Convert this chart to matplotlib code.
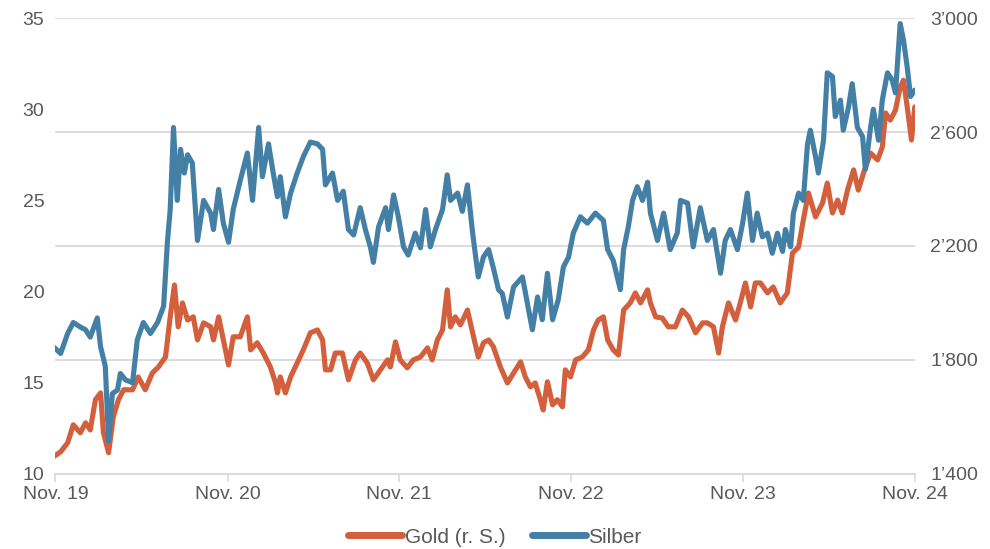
import matplotlib.pyplot as plt
import matplotlib.dates as mdates
from matplotlib.ticker import FixedLocator, FuncFormatter
import pandas as pd

plt.rcParams['font.family'] = ['Liberation Sans', 'DejaVu Sans']

start = pd.Timestamp('2019-11-01')

# days after 1 Nov 2019, silver price (USD/oz, left axis)
silver_days = [-4, 11, 26, 38, 53, 64, 74, 89, 96, 106, 113, 121, 132, 138, 149, 164, 174, 187,
               202, 217, 230, 238, 244, 251, 259, 266, 274, 281, 291, 302, 315, 330, 336, 347,
               357, 368, 378, 393, 408, 419, 432, 440, 453, 463, 472, 478, 489, 500, 514, 527,
               542, 557, 568, 574, 589, 600, 612, 623, 634, 648, 659, 670, 676, 687, 702, 708,
               719, 729, 740, 750, 765, 776, 787, 797, 808, 823, 833, 840, 855, 865, 876, 887,
               899, 910, 921, 931, 942, 950, 961, 974, 993, 1003, 1014, 1025, 1035, 1046, 1057,
               1069, 1080, 1091, 1101, 1116, 1131, 1148, 1165, 1174, 1186, 1201, 1208, 1218,
               1227, 1237, 1248, 1259, 1265, 1280, 1293, 1307, 1322, 1329, 1344, 1356, 1371,
               1386, 1399, 1414, 1424, 1435, 1450, 1461, 1471, 1482, 1492, 1503, 1514, 1524,
               1535, 1546, 1552, 1563, 1569, 1580, 1590, 1599, 1605, 1616, 1622, 1633, 1641,
               1652, 1658, 1669, 1675, 1686, 1694, 1705, 1716, 1722, 1733, 1739, 1750, 1758,
               1769, 1779, 1786, 1796, 1803, 1811, 1818, 1827]
silver = [16.96, 16.6, 17.7, 18.3, 18.05, 17.9, 17.5, 18.55, 16.96, 15.9, 11.8, 14.4, 14.6, 15.5,
          15.15, 15.0, 17.35, 18.3, 17.7, 18.3, 19.2, 22.7, 24.5, 29.0, 25.0, 27.8, 26.5, 27.5,
          27.05, 22.8, 25.0, 24.3, 23.4, 25.6, 23.75, 22.7, 24.5, 26.1, 27.6, 25.0, 29.0, 26.3,
          28.1, 26.5, 25.2, 26.3, 24.1, 25.4, 26.5, 27.4, 28.2, 28.1, 27.8, 25.85, 26.5, 25.0,
          25.5, 23.4, 23.1, 24.6, 23.4, 22.4, 21.6, 23.55, 24.6, 23.4, 25.3, 24.1, 22.45, 22.0,
          23.2, 22.4, 24.5, 22.45, 23.4, 24.5, 26.4, 25.0, 25.4, 24.4, 25.85, 23.2, 20.8, 21.9,
          22.3, 21.3, 20.1, 19.9, 18.6, 20.25, 20.8, 19.4, 17.9, 19.7, 18.45, 21.0, 18.45, 19.55,
          21.35, 21.9, 23.2, 24.1, 23.75, 24.3, 23.9, 22.3, 21.7, 20.1, 22.3, 23.55, 25.0, 25.75,
          25.0, 26.0, 24.3, 22.8, 24.3, 22.3, 23.2, 25.0, 24.85, 22.45, 24.6, 22.8, 23.4, 21.0,
          22.8, 23.4, 22.3, 23.75, 25.4, 22.8, 24.3, 23.0, 23.2, 22.1, 23.2, 22.2, 23.4, 22.45,
          24.3, 25.4, 25.0, 28.1, 28.85, 27.4, 26.5, 28.3, 32.0, 31.8, 29.6, 30.5, 28.85, 30.1,
          31.4, 29.0, 28.5, 26.7, 29.0, 30.0, 28.3, 30.5, 32.0, 31.6, 30.9, 34.7, 33.8, 32.3,
          30.7, 31.05]

# days after 1 Nov 2019, gold price (USD/oz, right axis)
gold_days = [-4, 11, 26, 38, 53, 64, 74, 85, 96, 102, 113, 123, 134, 145, 164, 176, 191, 206,
             219, 234, 244, 253, 261, 270, 281, 293, 302, 315, 330, 336, 347, 357, 368, 378,
             393, 408, 415, 429, 442, 457, 468, 472, 478, 489, 500, 514, 527, 542, 557, 568,
             574, 585, 595, 610, 623, 638, 648, 663, 676, 691, 706, 712, 723, 733, 748, 761,
             776, 791, 801, 812, 823, 833, 840, 850, 861, 876, 887, 899, 910, 921, 931, 946,
             961, 974, 989, 999, 1010, 1020, 1031, 1037, 1046, 1057, 1067, 1078, 1084, 1095,
             1106, 1120, 1133, 1144, 1154, 1165, 1174, 1186, 1197, 1208, 1222, 1233, 1244,
             1259, 1265, 1276, 1290, 1303, 1318, 1333, 1346, 1361, 1376, 1386, 1399, 1410,
             1418, 1431, 1446, 1456, 1467, 1478, 1488, 1499, 1514, 1526, 1541, 1556, 1567,
             1580, 1590, 1601, 1616, 1631, 1641, 1652, 1663, 1673, 1684, 1697, 1707, 1718,
             1733, 1748, 1758, 1765, 1775, 1786, 1796, 1803, 1811, 1820, 1827]
gold = [1460, 1477, 1509, 1572, 1544, 1579, 1554, 1660, 1684, 1544, 1474, 1600, 1660, 1695,
        1695, 1740, 1695, 1754, 1775, 1810, 1951, 2063, 1916, 2000, 1940, 1951, 1870, 1930,
        1916, 1870, 1951, 1870, 1782, 1881, 1881, 1951, 1835, 1860, 1824, 1775, 1719, 1684,
        1740, 1684, 1740, 1789, 1835, 1895, 1905, 1870, 1765, 1765, 1824, 1824, 1730, 1800,
        1824, 1789, 1730, 1765, 1800, 1775, 1863, 1800, 1772, 1800, 1810, 1842, 1800, 1870,
        1905, 2046, 1916, 1951, 1923, 1975, 1895, 1810, 1860, 1870, 1846, 1775, 1719, 1754,
        1793, 1740, 1705, 1719, 1660, 1624, 1723, 1642, 1660, 1635, 1765, 1740, 1800, 1810,
        1835, 1905, 1940, 1951, 1870, 1835, 1817, 1975, 2000, 2035, 2000, 2046, 2000, 1951,
        1947, 1916, 1916, 1975, 1951, 1895, 1930, 1930, 1916, 1824, 1916, 2000, 1940, 2000,
        2070, 1986, 2070, 2070, 2035, 2056, 2000, 2035, 2175, 2196, 2291, 2386, 2302, 2351,
        2421, 2316, 2361, 2316, 2396, 2467, 2396, 2456, 2526, 2502, 2547, 2667, 2642, 2677,
        2758, 2782, 2688, 2572, 2688]

year_ticks = ['2019-11-01', '2020-11-01', '2021-11-01', '2022-11-01', '2023-11-01', '2024-11-01']
year_labels = ['Nov. 19', 'Nov. 20', 'Nov. 21', 'Nov. 22', 'Nov. 23', 'Nov. 24']

silver_dates = start + pd.to_timedelta(silver_days, unit='D')
gold_dates = start + pd.to_timedelta(gold_days, unit='D')

c_gold = '#d35f3c'
c_silver = '#4480a6'
c_text = '#595959'
c_grid = '#d9d9d9'

fig, ax = plt.subplots(figsize=(9.9, 5.49), dpi=100)
fig.subplots_adjust(left=0.056, right=0.924, top=0.967, bottom=0.137)
ax2 = ax.twinx()

ax2.plot(gold_dates, gold, color=c_gold, lw=3.7, solid_capstyle='round',
         solid_joinstyle='round', label='Gold (r. S.)')
ax.plot(silver_dates, silver, color=c_silver, lw=3.7, solid_capstyle='round',
        solid_joinstyle='round', label='Silber')

# silver on top of gold
ax.set_zorder(2)
ax.patch.set_visible(False)

ax.set_xlim(pd.Timestamp(year_ticks[0]), pd.Timestamp(year_ticks[-1]))
ax.set_ylim(10, 35)
ax2.set_ylim(1400, 3000)
ax.set_yticks([10, 15, 20, 25, 30, 35])
ax2.set_yticks([1400, 1800, 2200, 2600, 3000])
ax2.yaxis.set_major_formatter(FuncFormatter(lambda v, p: f'{int(v):,}'.replace(',', '\u2019')))

ticks = [mdates.date2num(pd.Timestamp(d)) for d in year_ticks]
ax.xaxis.set_major_locator(FixedLocator(ticks))
ax.set_xticklabels(year_labels)

ax2.grid(axis='y', color=c_grid, lw=1.3)
ax2.set_axisbelow(True)
for a in (ax, ax2):
    for s in a.spines.values():
        s.set_visible(False)
ax.spines['bottom'].set_visible(True)
ax.spines['bottom'].set_color(c_grid)
ax.spines['bottom'].set_linewidth(1.3)

ax.tick_params(axis='x', colors=c_grid, length=6, width=1.2, labelcolor=c_text, labelsize=14, pad=3)
ax.tick_params(axis='y', length=0, labelcolor=c_text, labelsize=14, pad=8)
ax2.tick_params(axis='y', length=0, labelcolor=c_text, labelsize=14, pad=11)

h1, l1 = ax2.get_legend_handles_labels()
h2, l2 = ax.get_legend_handles_labels()
leg = fig.legend(h1 + h2, l1 + l2, loc='lower center', bbox_to_anchor=(0.5, -0.03), ncol=2,
                 frameon=False, fontsize=15, handlelength=2.6, handletextpad=0.1,
                 columnspacing=1.3, labelcolor=c_text)
for line in leg.get_lines():
    line.set_linewidth(5)

fig.savefig('out.png', dpi=100)
